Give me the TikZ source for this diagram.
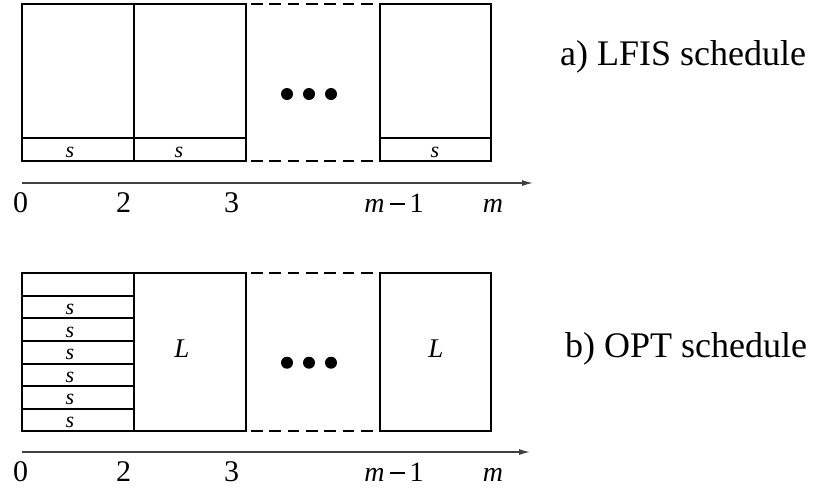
\documentclass[tikz,border=0pt]{standalone}
\usepackage{fontspec}
\setmainfont{Liberation Serif}
\usetikzlibrary{arrows.meta}
\newcommand{\mminus}{\hspace{5pt}\rule[7.3pt]{15pt}{1.3pt}\hspace{5pt}}
\begin{document}
\begin{tikzpicture}[x=1pt,y=-1pt,
  box/.style={line width=2pt},
  dsh/.style={line width=2pt, dash pattern=on 11.7pt off 6.6pt},
  axis/.style={line width=1.3pt, black!75, -{Latex[length=11pt,width=6pt]}},
  num/.style={font=\fontsize{30}{30}\selectfont, anchor=base, inner sep=0pt},
  mlbl/.style={font=\fontsize{28}{28}\selectfont, anchor=base, inner sep=0pt},
  slbl/.style={font=\fontsize{22}{22}\selectfont\itshape, anchor=base, inner sep=0pt},
  Llbl/.style={font=\fontsize{27}{27}\selectfont\itshape, inner sep=0pt},
  ttl/.style={font=\fontsize{36}{36}\selectfont, anchor=base west, inner sep=0pt},
  dot/.style={fill=black}]
\useasboundingbox (0,0) rectangle (818,488);

% ---------- a) LFIS schedule ----------
\draw[box] (22,4) rectangle (134,161);
\draw[box] (134,4) rectangle (246,161);
\draw[box] (380,4) rectangle (491,161);
\draw[box] (22,138) -- (246,138);
\draw[box] (380,138) -- (491,138);
\draw[dsh] (251,4) -- (380,4);
\draw[dsh] (251,161) -- (380,161);
\fill[dot] (287,94) circle[radius=6pt];
\fill[dot] (309,94) circle[radius=6pt];
\fill[dot] (331,94) circle[radius=6pt];
\node[slbl] (sa1) at (70,157.5) {s};
\node[slbl] (sa2) at (179,157.5) {s};
\node[slbl] (sa3) at (435,157.5) {s};

\coordinate (ax0) at (22,183);
\coordinate (ax1) at (533,183);
\draw[axis] (ax0) -- (ax1);
\node[num] (ta0) at (20.5,212) {0};
\node[num] (ta2) at (123.5,212) {2};
\node[num] (ta3) at (231.5,212) {3};
\node[mlbl] (tam1) at (394,212) {\textit{m}\mminus 1};
\node[mlbl] (tam) at (493,212) {\textit{m}};
\node[ttl] (titlea) at (560,65) {a) LFIS schedule};

% ---------- b) OPT schedule ----------
\draw[box] (22,273) rectangle (134,431);
\draw[box] (134,273) rectangle (246,431);
\draw[box] (380,273) rectangle (491,431);
\foreach \yy in {295.7,318.3,341,363.7,386,408.5}
  \draw[box] (22,\yy) -- (134,\yy);
\draw[dsh] (251,273) -- (380,273);
\draw[dsh] (251,431) -- (380,431);
\fill[dot] (287,362.7) circle[radius=6pt];
\fill[dot] (309,362.7) circle[radius=6pt];
\fill[dot] (331,362.7) circle[radius=6pt];
\node[slbl] (sb1) at (70,314.3) {s};
\node[slbl] (sb2) at (70,337) {s};
\node[slbl] (sb3) at (70,359.7) {s};
\node[slbl] (sb4) at (70,382.3) {s};
\node[slbl] (sb5) at (70,404.8) {s};
\node[slbl] (sb6) at (70,427.5) {s};
\node[Llbl] (L1) at (182,349) {L};
\node[Llbl] (L2) at (436,349) {L};

\coordinate (bx0) at (22,452);
\coordinate (bx1) at (530,452);
\draw[axis] (bx0) -- (bx1);
\node[num] (tb0) at (20.5,481) {0};
\node[num] (tb2) at (123.5,481) {2};
\node[num] (tb3) at (231.5,481) {3};
\node[mlbl] (tbm1) at (394,481) {\textit{m}\mminus 1};
\node[mlbl] (tbm) at (493,481) {\textit{m}};
\node[ttl] (titleb) at (565,357) {b) OPT schedule};
\end{tikzpicture}
\end{document}
